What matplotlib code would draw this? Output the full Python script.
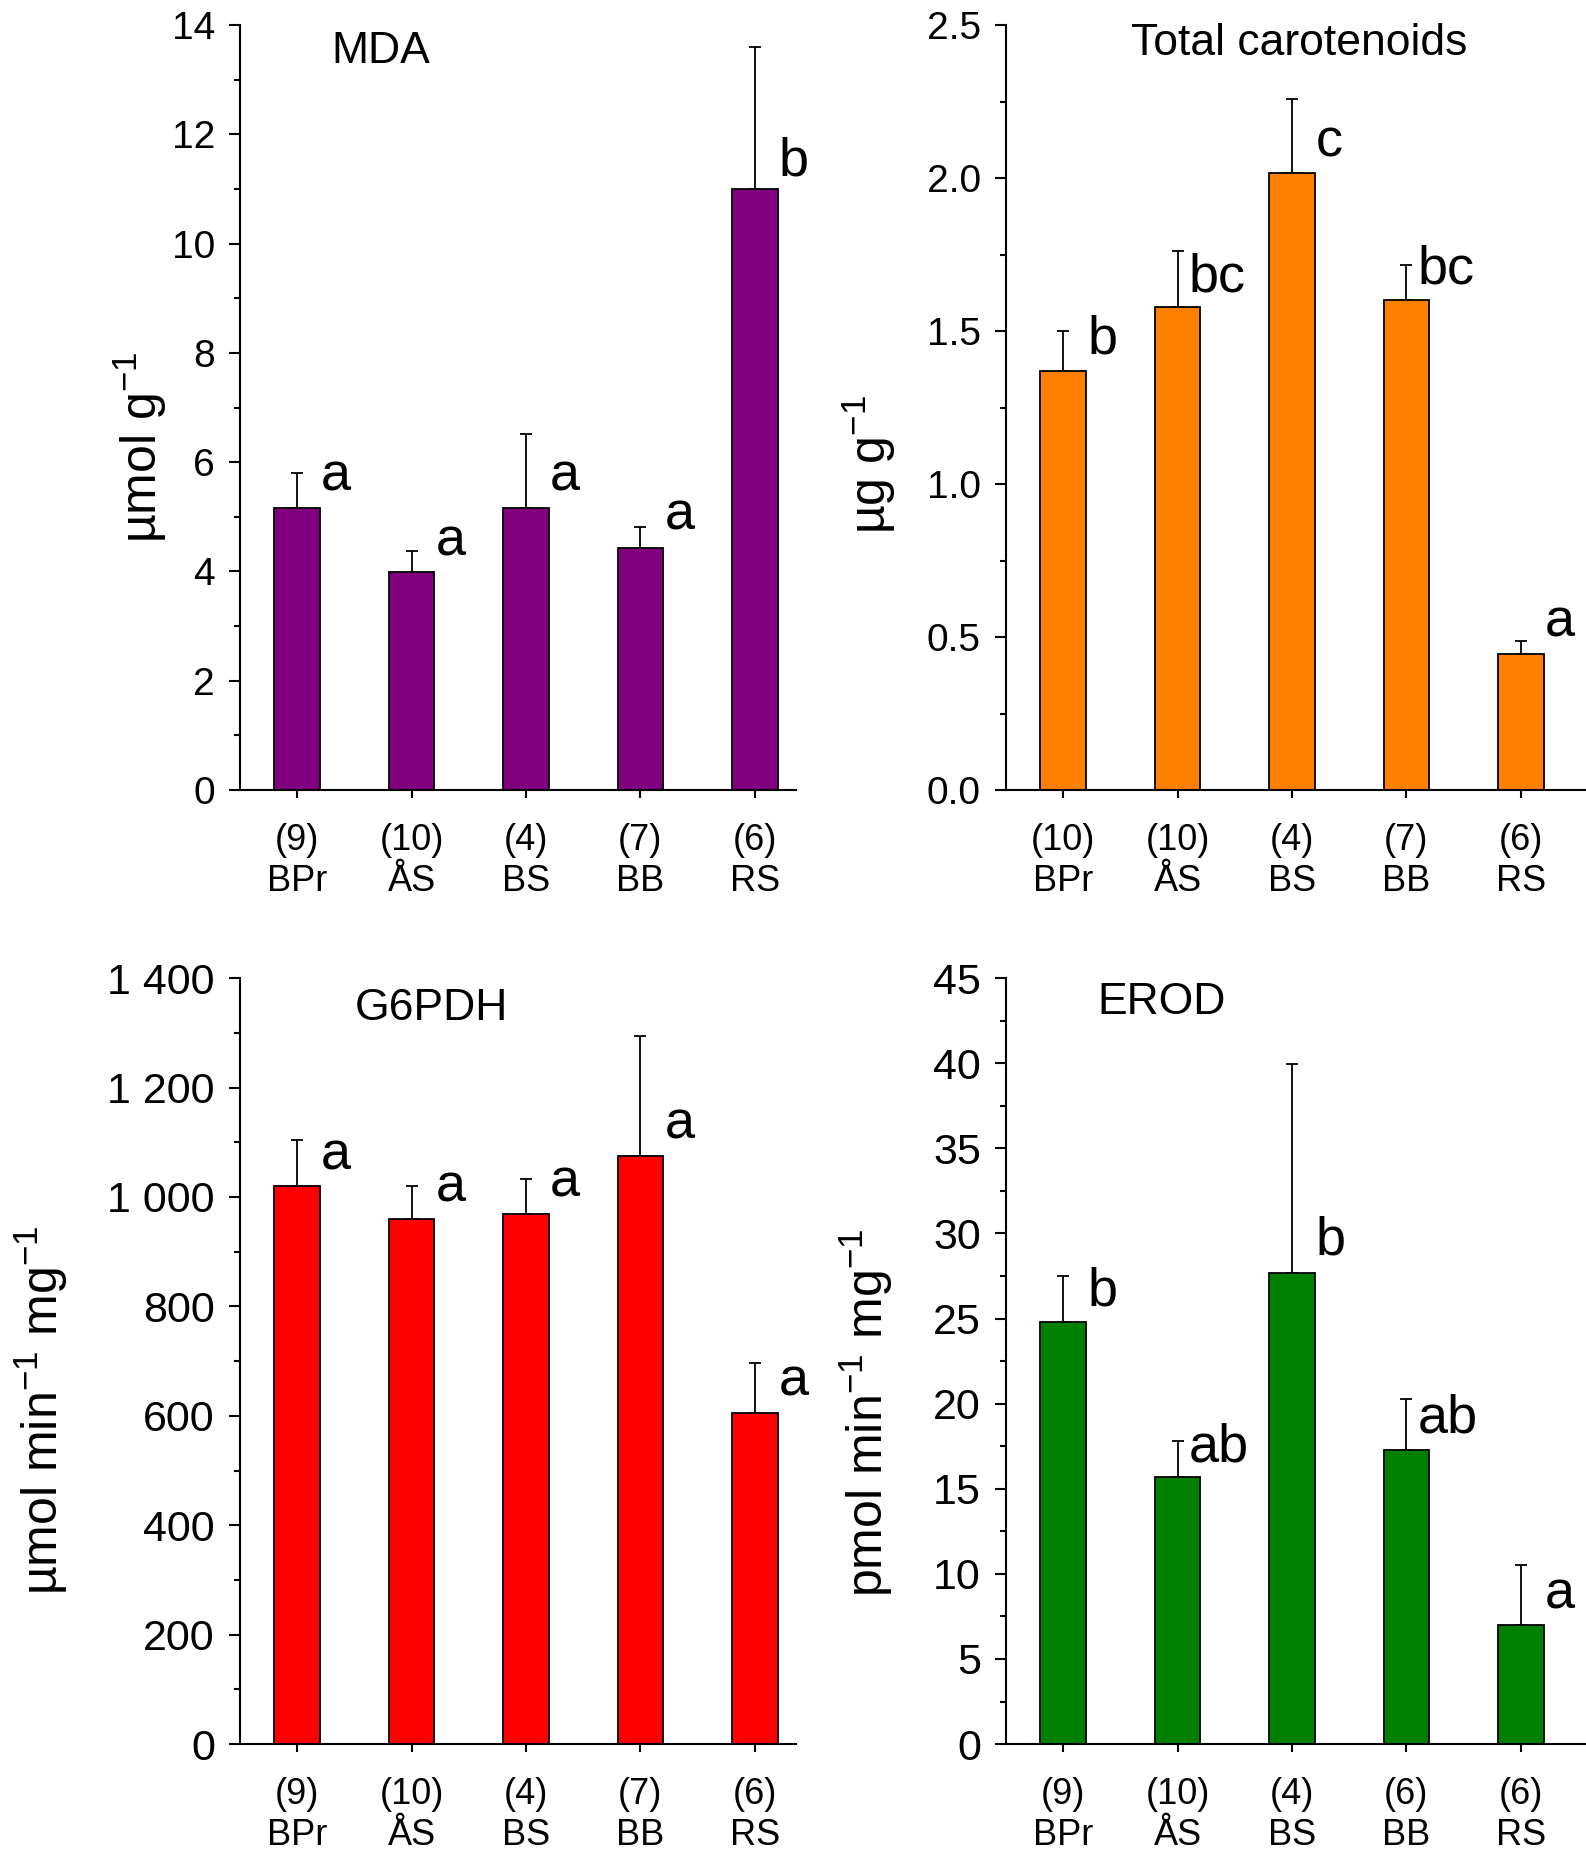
import matplotlib
matplotlib.use("Agg")
import matplotlib.pyplot as plt
from matplotlib.ticker import MultipleLocator, FuncFormatter

plt.rcParams['font.family'] = 'Liberation Sans'
plt.rcParams['mathtext.fontset'] = 'custom'
plt.rcParams['mathtext.rm'] = 'Liberation Sans'
plt.rcParams['mathtext.it'] = 'Liberation Sans:italic'
plt.rcParams['mathtext.bf'] = 'Liberation Sans:bold'

# data
sites = ['BPr', 'ÅS', 'BS', 'BB', 'RS']

mda_n = [9, 10, 4, 7, 6]
mda = [5.17, 3.99, 5.17, 4.43, 11.0]
mda_err = [0.64, 0.39, 1.34, 0.39, 2.6]
mda_let = ['a', 'a', 'a', 'a', 'b']

car_n = [10, 10, 4, 7, 6]
car = [1.37, 1.578, 2.017, 1.60, 0.444]
car_err = [0.13, 0.184, 0.241, 0.117, 0.044]
car_let = ['b', 'bc', 'c', 'bc', 'a']

g6_n = [9, 10, 4, 7, 6]
g6 = [1020, 960, 969, 1075, 606]
g6_err = [85, 60, 63, 219, 90]
g6_let = ['a', 'a', 'a', 'a', 'a']

erod_n = [9, 10, 4, 6, 6]
erod = [24.8, 15.7, 27.7, 17.3, 7.0]
erod_err = [2.7, 2.1, 12.25, 2.95, 3.5]
erod_let = ['b', 'ab', 'b', 'ab', 'a']

# where the letters sit (baseline, data units)
mda_let_y = [5.49, 4.30, 5.49, 4.76, 11.25]
car_let_y = [1.425, 1.628, 2.070, 1.656, 0.503]
g6_let_y = [1051, 991, 1001, 1106, 637]
erod_let_y = [25.79, 16.6, 28.74, 18.32, 7.96]


def thousands(v, pos):
    return f'{v:,.0f}'.replace(',', ' ')


panels = [
    dict(rect=[0.1513, 0.5741, 0.3506, 0.4124], xr=4.36, vals=mda, err=mda_err, n=mda_n,
         let=mda_let, let_y=mda_let_y, color='#800080', ylim=14, major=2, minor=1,
         fmt=None, ylabel='µmol g$^{-1}$', ylab_pos=(-0.18, 0.448),
         title='MDA', title_pos=(0.165, 0.950), tsize=28),
    dict(rect=[0.6343, 0.5741, 0.3657, 0.4124], xr=4.57, vals=car, err=car_err, n=car_n,
         let=car_let, let_y=car_let_y, color='#FF8000', ylim=2.5, major=0.5, minor=0.25,
         fmt='{x:.1f}', ylabel='µg g$^{-1}$', ylab_pos=(-0.236, 0.426),
         title='Total carotenoids', title_pos=(0.215, 0.961), tsize=28),
    dict(rect=[0.1513, 0.0598, 0.3506, 0.4129], xr=4.36, vals=g6, err=g6_err, n=g6_n,
         let=g6_let, let_y=g6_let_y, color='#FF0000', ylim=1400, major=200, minor=100,
         fmt=FuncFormatter(thousands), ylabel='µmol min$^{-1}$ mg$^{-1}$',
         ylab_pos=(-0.358, 0.436), title='G6PDH', title_pos=(0.207, 0.945), tsize=31),
    dict(rect=[0.6343, 0.0598, 0.3657, 0.4129], xr=4.57, vals=erod, err=erod_err, n=erod_n,
         let=erod_let, let_y=erod_let_y, color='#008000', ylim=45, major=5, minor=2.5,
         fmt=None, ylabel='pmol min$^{-1}$ mg$^{-1}$', ylab_pos=(-0.24, 0.432),
         title='EROD', title_pos=(0.157, 0.953), tsize=31),
]

fig = plt.figure(figsize=(15.86, 18.55), dpi=100)

for p in panels:
    ax = fig.add_axes(p['rect'])
    x = list(range(len(sites)))
    ax.bar(x, p['vals'], width=0.4, color=p['color'], edgecolor='black',
           linewidth=1.3, zorder=2)
    ax.errorbar(x, p['vals'], yerr=[[0] * len(x), p['err']], fmt='none',
                ecolor='black', elinewidth=1.3, capsize=4, capthick=1.3, zorder=1)

    for i, (lab, ly) in enumerate(zip(p['let'], p['let_y'])):
        off = 0.21 if len(lab) == 1 else 0.095
        ax.text(i + off, ly, lab, fontsize=39, ha='left', va='baseline')

    ax.set_xlim(-0.5, p['xr'])
    ax.set_ylim(0, p['ylim'])
    ax.spines['top'].set_visible(False)
    ax.spines['right'].set_visible(False)
    ax.spines['left'].set_linewidth(1.5)
    ax.spines['bottom'].set_linewidth(1.5)

    ax.set_xticks(x)
    ax.set_xticklabels([f'({n})\n{s}' for n, s in zip(p['n'], sites)], fontsize=26)
    ax.tick_params(axis='x', length=6, width=1.5, pad=18, direction='out')

    ax.yaxis.set_major_locator(MultipleLocator(p['major']))
    ax.yaxis.set_minor_locator(MultipleLocator(p['minor']))
    if p['fmt'] is not None:
        ax.yaxis.set_major_formatter(p['fmt'])
    ax.tick_params(axis='y', which='major', length=8, width=1.5, pad=10,
                   labelsize=p['tsize'], direction='out')
    ax.tick_params(axis='y', which='minor', length=4.5, width=1.5, direction='out')

    ax.text(p['ylab_pos'][0], p['ylab_pos'][1], p['ylabel'], fontsize=36,
            rotation=90, ha='center', va='center', transform=ax.transAxes)
    ax.text(p['title_pos'][0], p['title_pos'][1], p['title'], fontsize=32,
            ha='left', va='baseline', transform=ax.transAxes)

fig.savefig('out.png', dpi=100)
